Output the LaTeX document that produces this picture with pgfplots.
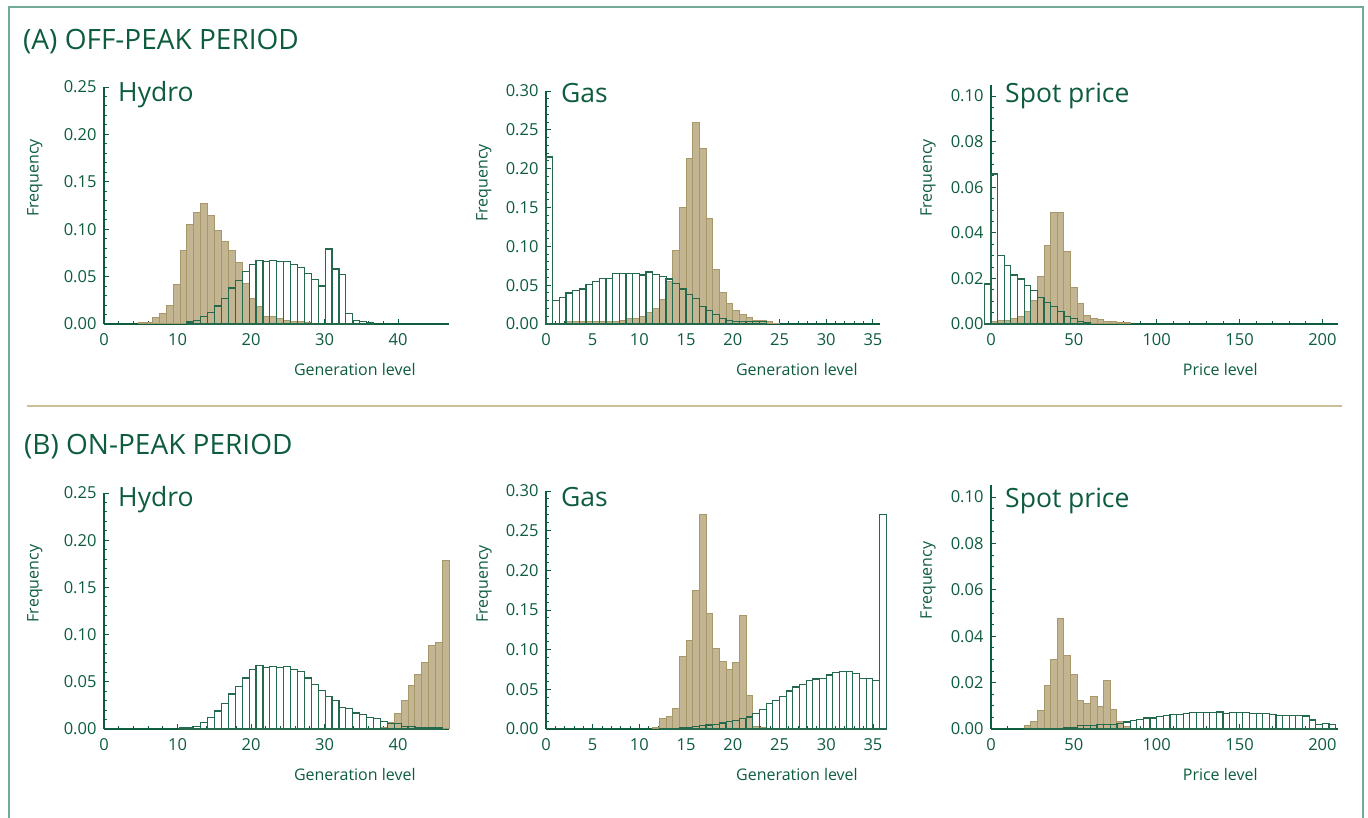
\documentclass[border=0pt]{standalone}
\usepackage{fontspec}
\setmainfont{Open Sans}
\usepackage{pgfplots}
\pgfplotsset{compat=1.18}

\definecolor{dkgreen}{HTML}{0E5C3E}
\definecolor{barline}{HTML}{25694D}
\definecolor{tanfill}{HTML}{C3B592}
\definecolor{tanedge}{HTML}{A69868}
\definecolor{framecol}{HTML}{72A999}
\definecolor{sepcol}{HTML}{CBBF98}

\tikzset{ptitle/.style={anchor=base west, text=dkgreen, font=\fontsize{26.5}{30}\selectfont, inner sep=0pt}}

\pgfplotsset{
  panel/.style={
    scale only axis, anchor=south west, clip=false,
    axis x line=bottom, axis y line=left,
    axis line style={dkgreen, line width=1.3pt, -},
    tick align=inside, major tick length=5pt, minor tick length=3pt,
    every tick/.style={dkgreen, line width=0.9pt},
    ticklabel style={font=\fontsize{16.5}{16.5}\selectfont, text=dkgreen},
    /pgf/number format/assume math mode=true,
    xmin=0, ymin=0, scaled y ticks=false,
    yticklabel style={/pgf/number format/.cd, fixed, fixed zerofill, precision=2, /tikz/.cd, xshift=-4pt},
    xticklabel style={yshift=-6pt},
    label style={font=\fontsize{16}{16}\selectfont, text=dkgreen},
    ylabel={Frequency},
    ylabel style={anchor=center},
    xlabel style={anchor=center},
    xtick pos=bottom, ytick pos=left,
  },
  tanbar/.style={ybar, bar width=#1, bar shift=0pt, fill=tanfill, draw=tanedge, line width=1pt},
  grnbar/.style={ybar, bar width=#1, bar shift=0pt, fill=none, draw=barline, line width=1.2pt},
}

\begin{document}
\begin{tikzpicture}[x=1pt, y=1pt]
\useasboundingbox (0,0) rectangle (1368,818);
\draw[framecol, line width=2pt] (8.5,-2) -- (8.5,811) -- (1362.5,811) -- (1362.5,-2);
\draw[sepcol, line width=1.2pt] (27,412) -- (1342,412);
\node[anchor=base west, text=dkgreen, font=\fontsize{28}{32}\selectfont, inner sep=0pt] at (23,768.5) {(A) OFF-PEAK PERIOD};
\node[anchor=base west, text=dkgreen, font=\fontsize{28}{32}\selectfont, inner sep=0pt] at (24,363) {(B) ON-PEAK PERIOD};

% ---------- (A) off-peak ----------
\begin{axis}[panel, at={(104pt,494pt)}, width=345.5pt, height=237pt,
  xmax=47, ymax=0.25, xtick={0,10,20,30,40}, ytick={0,0.05,...,0.25},
  minor x tick num=4, minor y tick num=4,
  xlabel={Generation level},
  xlabel style={at={(axis description cs:0.726,0)}, yshift=-46pt},
  ylabel style={at={(axis description cs:-0.2,0.616)}}]
\addplot[tanbar=0.94] coordinates {
 (5.17,.002)(6.11,.002)(7.05,.007)(7.99,.011)(8.93,.019)(9.87,.042)(10.81,.078)(11.75,.105)
 (12.69,.118)(13.63,.127)(14.57,.114)(15.51,.099)(16.45,.087)(17.39,.078)(18.33,.065)(19.27,.043)
 (20.21,.027)(21.15,.018)(22.09,.008)(23.03,.008)(23.97,.006)(24.91,.004)(25.85,.003)(26.79,.003)
 (27.73,.002)(28.67,.001)};
\addplot[grnbar=0.94] coordinates {
 (11.75,.002)(12.69,.004)(13.63,.008)(14.57,.012)(15.51,.019)(16.45,.027)(17.39,.038)(18.33,.046)
 (19.27,.055)(20.21,.063)(21.15,.067)(22.09,.066)(23.03,.067)(23.97,.066)(24.91,.066)(25.85,.063)
 (26.79,.060)(27.73,.053)(28.67,.047)(29.61,.040)(30.55,.079)(31.49,.058)(32.43,.052)(33.37,.011)
 (34.31,.004)(35.25,.0025)(36.19,.0014)};
\node[ptitle] at (rel axis cs:0,1) [xshift=14pt, yshift=-15pt] {Hydro};
\end{axis}

\begin{axis}[panel, at={(546pt,494pt)}, width=334.4pt, height=233pt,
  xmax=35.8, ymax=0.30, xtick={0,5,...,35}, ytick={0,0.05,...,0.30},
  minor x tick num=4, minor y tick num=4,
  xlabel={Generation level},
  xlabel style={at={(axis description cs:0.75,0)}, yshift=-46pt},
  ylabel style={at={(axis description cs:-0.186,0.605)}}]
\addplot[tanbar=0.714] coordinates {
 (2.50,.003)(3.21,.003)(3.93,.003)(4.64,.003)(5.36,.003)(6.07,.003)(6.78,.003)(7.50,.003)
 (8.21,.005)(8.93,.007)(9.64,.007)(10.35,.010)(11.07,.015)(11.78,.020)(12.50,.032)(13.21,.055)
 (13.92,.094)(14.64,.150)(15.35,.213)(16.07,.259)(16.78,.226)(17.49,.136)(18.21,.070)(18.92,.041)
 (19.64,.027)(20.35,.017)(21.06,.012)(21.78,.009)(22.49,.004)(23.21,.004)(23.92,.003)(24.63,.001)};
\addplot[grnbar=0.714] coordinates {
 (0.36,.215)(1.07,.030)(1.79,.034)(2.50,.040)(3.21,.043)(3.93,.045)(4.64,.051)(5.36,.055)
 (6.07,.059)(6.78,.059)(7.50,.065)(8.21,.065)(8.93,.065)(9.64,.065)(10.35,.063)(11.07,.067)
 (11.78,.064)(12.50,.061)(13.21,.058)(13.92,.052)(14.64,.045)(15.35,.038)(16.07,.033)(16.78,.023)
 (17.49,.017)(18.21,.012)(18.92,.007)(19.64,.004)(20.35,.003)(21.06,.003)(21.78,.003)(22.49,.003)
 (23.21,.003)};
\node[ptitle] at (rel axis cs:0,1) [xshift=15pt, yshift=-12pt] {Gas};
\end{axis}

\begin{axis}[panel, at={(991pt,494pt)}, width=347.3pt, height=239.4pt,
  xmax=209.6, ymax=0.105, xtick={0,50,...,200}, ytick={0,0.02,...,0.10},
  minor x tick num=4, minor y tick num=3,
  xlabel={Price level},
  xlabel style={at={(axis description cs:0.66,0)}, yshift=-46pt},
  ylabel style={at={(axis description cs:-0.181,0.61)}}]
\addplot[tanbar=4] coordinates {
 (2,.001)(6,.0015)(10,.0015)(14,.0023)(18,.0032)(22,.0056)(26,.0105)(30,.021)(34,.0345)(38,.049)
 (42,.049)(46,.032)(50,.016)(54,.009)(58,.0038)(62,.0023)(66,.0018)(70,.0012)(74,.001)(78,.0006)(82,.0006)};
\addplot[grnbar=4] coordinates {
 (-2,.0175)(2,.0658)(6,.030)(10,.0257)(14,.0215)(18,.0197)(22,.017)(26,.0146)(30,.0117)(34,.0095)
 (38,.0075)(42,.0056)(46,.0034)(50,.0023)(54,.0012)(58,.0006)};
\node[ptitle] at (rel axis cs:0,1) [xshift=14pt, yshift=-18pt] {Spot price};
\end{axis}

% ---------- (B) on-peak ----------
\begin{axis}[panel, at={(104pt,89pt)}, width=345.5pt, height=236pt,
  xmax=47, ymax=0.25, xtick={0,10,20,30,40}, ytick={0,0.05,...,0.25},
  minor x tick num=4, minor y tick num=4,
  xlabel={Generation level},
  xlabel style={at={(axis description cs:0.726,0)}, yshift=-46pt},
  ylabel style={at={(axis description cs:-0.2,0.616)}}]
\addplot[tanbar=0.94] coordinates {
 (38.07,.002)(39.01,.007)(39.95,.016)(40.89,.030)(41.83,.046)(42.77,.058)(43.71,.070)(44.65,.088)
 (45.59,.092)(46.53,.178)};
\addplot[grnbar=0.94] coordinates {
 (10.81,.001)(11.75,.002)(12.69,.003)(13.63,.007)(14.57,.012)(15.51,.019)(16.45,.027)(17.39,.037)
 (18.33,.045)(19.27,.054)(20.21,.063)(21.15,.067)(22.09,.065)(23.03,.066)(23.97,.065)(24.91,.066)
 (25.85,.063)(26.79,.061)(27.73,.054)(28.67,.047)(29.61,.041)(30.55,.034)(31.49,.030)(32.43,.023)
 (33.37,.022)(34.31,.017)(35.25,.015)(36.19,.012)(37.13,.011)(38.07,.008)(39.01,.006)(39.95,.006)
 (40.89,.003)(41.83,.003)(42.77,.0015)(43.71,.0015)(44.65,.0015)(45.59,.001)};
\node[ptitle] at (rel axis cs:0,1) [xshift=14pt, yshift=-14pt] {Hydro};
\end{axis}

\begin{axis}[panel, at={(546pt,89pt)}, width=340.5pt, height=238pt,
  xmax=36.45, ymax=0.30, xtick={0,5,...,35}, ytick={0,0.05,...,0.30},
  minor x tick num=4, minor y tick num=4,
  xlabel={Generation level},
  xlabel style={at={(axis description cs:0.737,0)}, yshift=-46pt},
  ylabel style={at={(axis description cs:-0.182,0.61)}}]
\addplot[tanbar=0.714] coordinates {
 (11.78,.002)(12.50,.013)(13.21,.016)(13.92,.026)(14.64,.092)(15.35,.112)(16.07,.175)(16.78,.270)
 (17.49,.146)(18.21,.101)(18.92,.085)(19.64,.075)(20.35,.084)(21.06,.143)(21.78,.042)(22.49,.003)
 (23.21,.002)(23.92,.001)(24.63,.001)(25.35,.001)};
\addplot[grnbar=0.714] coordinates {
 (12.50,.0005)(13.21,.0005)(13.92,.001)(14.64,.002)(15.35,.002)(16.07,.0034)(16.78,.004)(17.49,.005)
 (18.21,.006)(18.92,.0076)(19.64,.009)(20.35,.011)(21.06,.013)(21.78,.015)(22.49,.020)(23.21,.025)
 (23.92,.032)(24.63,.036)(25.35,.041)(26.06,.048)(26.78,.053)(27.49,.056)(28.20,.061)(28.92,.063)
 (29.63,.064)(30.35,.068)(31.06,.071)(31.77,.072)(32.49,.072)(33.20,.070)(33.92,.064)(34.63,.064)
 (35.34,.061)(36.06,.270)};
\node[ptitle] at (rel axis cs:0,1) [xshift=15pt, yshift=-16pt] {Gas};
\end{axis}

\begin{axis}[panel, at={(991pt,89pt)}, width=347.3pt, height=243.6pt,
  xmax=209.6, ymax=0.105, xtick={0,50,...,200}, ytick={0,0.02,...,0.10},
  minor x tick num=4, minor y tick num=3,
  xlabel={Price level},
  xlabel style={at={(axis description cs:0.66,0)}, yshift=-46pt},
  ylabel style={at={(axis description cs:-0.181,0.61)}}]
\addplot[tanbar=4] coordinates {
 (22,.0013)(26,.0033)(30,.0078)(34,.0188)(38,.030)(42,.0477)(46,.0318)(50,.0236)(54,.0124)(58,.011)
 (62,.0138)(66,.0095)(70,.021)(74,.0086)(78,.0033)(82,.001)};
\addplot[grnbar=4] coordinates {
 (22,.0003)(26,.0003)(30,.0003)(34,.0003)(38,.0003)(42,.0003)(46,.0007)(50,.0007)(54,.0014)(58,.0014)
 (62,.0014)(66,.002)(70,.002)(74,.002)(78,.0024)(82,.003)(86,.0036)(90,.0042)(94,.0047)(98,.0047)
 (102,.0053)(106,.0059)(110,.0063)(114,.0063)(118,.0068)(122,.007)(126,.007)(130,.0071)(134,.0071)
 (138,.0073)(142,.0068)(146,.0072)(150,.0072)(154,.0072)(158,.0068)(162,.0068)(166,.0068)(170,.0062)
 (174,.0057)(178,.0057)(182,.0057)(186,.0057)(190,.0056)(194,.0039)(198,.002)(202,.0024)(206,.0019)};
\node[ptitle] at (rel axis cs:0,1) [xshift=14pt, yshift=-22pt] {Spot price};
\end{axis}
\end{tikzpicture}
\end{document}
